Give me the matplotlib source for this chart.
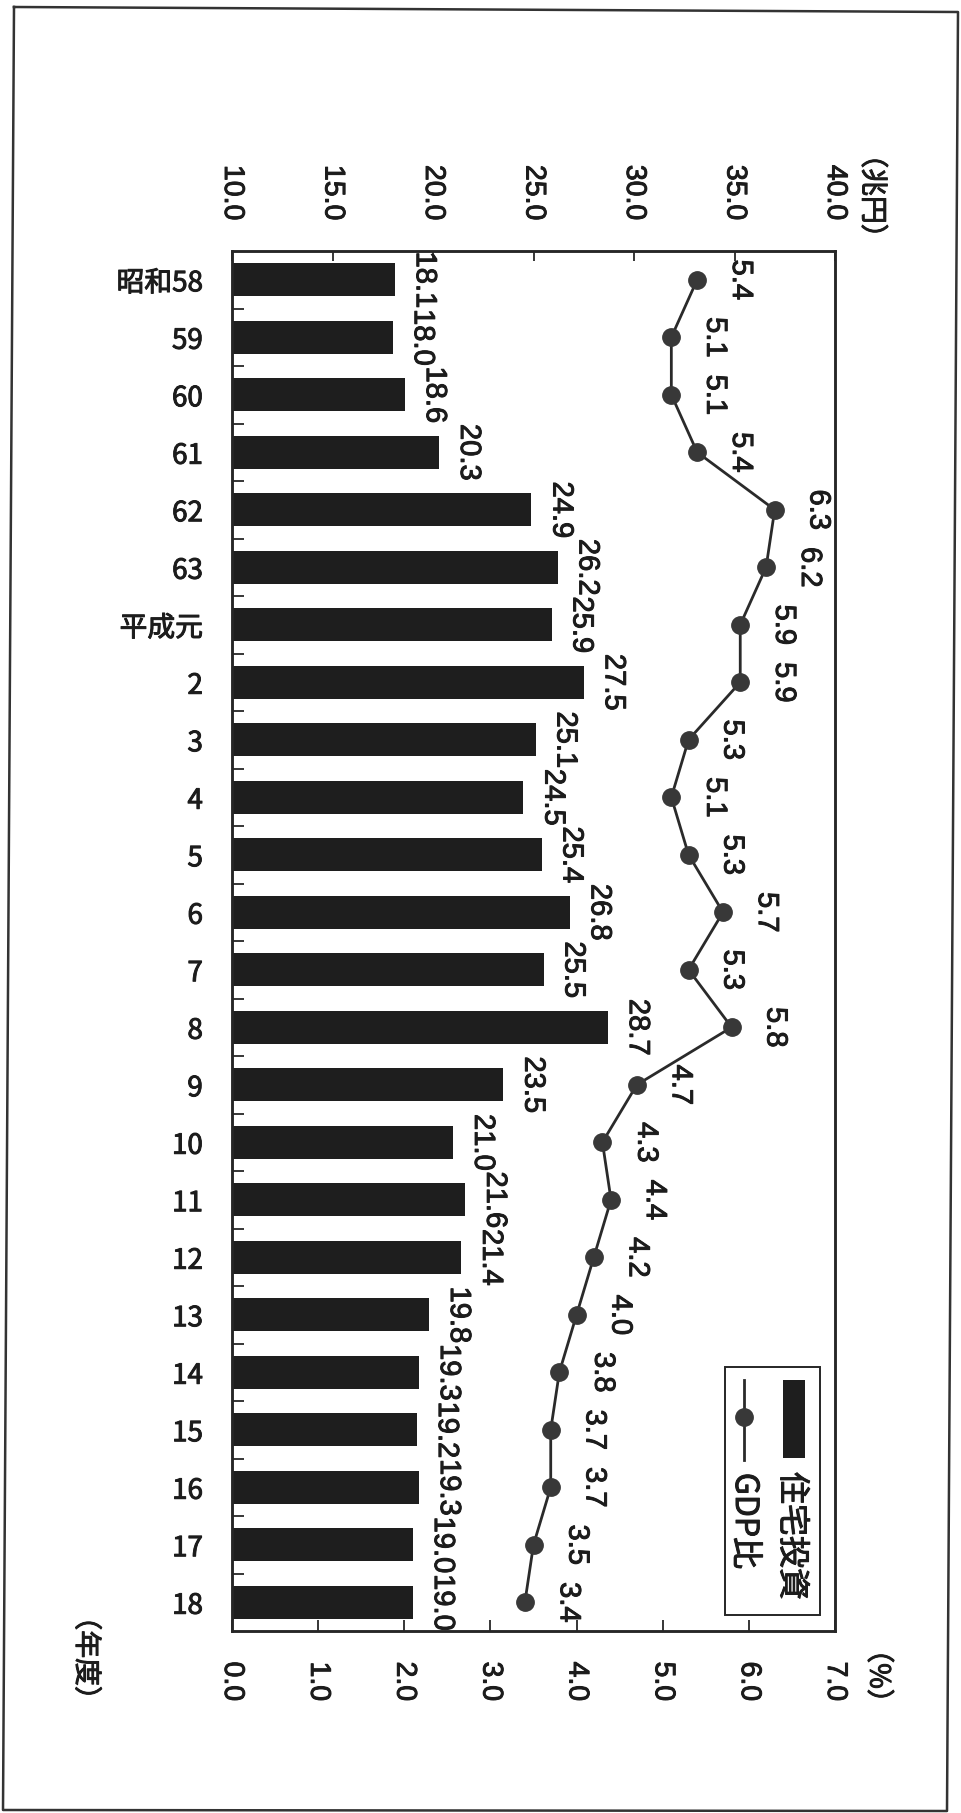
import matplotlib
matplotlib.use('Agg')
import matplotlib.pyplot as plt
import matplotlib.patheffects as pe
from matplotlib.ticker import FormatStrFormatter
from matplotlib.lines import Line2D
from matplotlib.patches import Rectangle

# ---- data ----
categories = ['昭和58', '59', '60', '61', '62', '63', '平成元', '2', '3', '4', '5', '6',
              '7', '8', '9', '10', '11', '12', '13', '14', '15', '16', '17', '18']
investment = [18.1, 18.0, 18.6, 20.3, 24.9, 26.2, 25.9, 27.5, 25.1, 24.5, 25.4, 26.8,
              25.5, 28.7, 23.5, 21.0, 21.6, 21.4, 19.8, 19.3, 19.2, 19.3, 19.0, 19.0]
gdp_ratio = [5.4, 5.1, 5.1, 5.4, 6.3, 6.2, 5.9, 5.9, 5.3, 5.1, 5.3, 5.7,
             5.3, 5.8, 4.7, 4.3, 4.4, 4.2, 4.0, 3.8, 3.7, 3.7, 3.5, 3.4]
inv_ticks = [10, 15, 20, 25, 30, 35, 40]
gdp_ticks = [0, 1, 2, 3, 4, 5, 6, 7]
legend_labels = ['住宅投資', 'GDP比']
unit_inv = '（兆円）'
unit_gdp = '（%）'
unit_cat = '（年度）'

# ---- style ----
BAR = '#1e1e1e'
LINE = '#2a2a2a'
MARK = '#383838'
TXT = '#1c1c1c'
EDGE = '#262626'
CJK = ['Noto Sans CJK JP', 'DejaVu Sans']
NUM = ['Liberation Sans', 'DejaVu Sans']
plt.rcParams['font.family'] = NUM
BOLDEN = [pe.withStroke(linewidth=0.7, foreground=TXT)]

W, H = 961, 1813
fig = plt.figure(figsize=(W / 100, H / 100), dpi=100)
fig.patch.set_facecolor('white')

ax = fig.add_axes([232 / W, 1 - 1631 / H, 603 / W, 1380 / H])
ax2 = ax.twiny()

n = len(categories)
ypos = list(range(n))

# bars
ax.barh(ypos, investment, height=0.575, color=BAR, zorder=2)
ax.set_xlim(10, 40)
ax.set_ylim(n - 0.5, -0.5)

ax.xaxis.tick_top()
ax.set_xticks(inv_ticks)
ax.xaxis.set_major_formatter(FormatStrFormatter('%.1f'))
ax.tick_params(axis='x', which='major', direction='in', length=7, width=1.3,
               color=EDGE, pad=22, labelsize=20.5, labelrotation=-90, labelcolor=TXT,
               top=True, bottom=False, labeltop=True, labelbottom=False)

ax.set_yticks(ypos)
ax.set_yticklabels(categories, fontsize=20, family=CJK, color=TXT)
ax.tick_params(axis='y', which='major', length=0, pad=21)
ax.set_yticks([i + 0.5 for i in range(n - 1)], minor=True)
ax.tick_params(axis='y', which='minor', direction='in', length=8.5, width=1.3,
               color=EDGE, left=True, right=False)

# line on secondary axis
ax2.plot(gdp_ratio, ypos, color=LINE, lw=2.0, marker='o', ms=12.5,
         mfc=MARK, mec=MARK, zorder=3)
ax2.set_xlim(0, 7)
ax2.set_ylim(n - 0.5, -0.5)
ax2.xaxis.tick_bottom()
ax2.set_xticks(gdp_ticks)
ax2.xaxis.set_major_formatter(FormatStrFormatter('%.1f'))
ax2.tick_params(axis='x', which='major', direction='in', length=8, width=1.3,
                color=EDGE, pad=22, labelsize=20.5, labelrotation=-90, labelcolor=TXT,
                top=False, bottom=True, labeltop=False, labelbottom=True)

for t in ax.get_xticklabels() + ax.get_yticklabels() + ax2.get_xticklabels():
    t.set_path_effects(BOLDEN)

for a in (ax, ax2):
    for s in a.spines.values():
        s.set_linewidth(1.8)
        s.set_color(EDGE)

# data labels
for i, v in enumerate(investment):
    ax.annotate(f'{v:.1f}', (v, i), xytext=(11.5, 0), textcoords='offset points',
                rotation=-90, ha='left', va='center', fontsize=21, family=NUM,
                color=TXT, zorder=4, path_effects=BOLDEN)
for i, v in enumerate(gdp_ratio):
    ax2.annotate(f'{v:.1f}', (v, i), xytext=(21.5, 0), textcoords='offset points',
                 rotation=-90, ha='left', va='center', fontsize=21, family=NUM,
                 color=TXT, zorder=4, path_effects=BOLDEN)

# unit labels
ax.text(1.062, 1.0399, unit_inv, transform=ax.transAxes, rotation=-90,
        ha='center', va='center', fontsize=20, family=CJK, color=TXT,
        path_effects=BOLDEN)
ax.text(1.072, -0.0326, unit_gdp, transform=ax.transAxes, rotation=-90,
        ha='center', va='center', fontsize=20, family=CJK, color=TXT,
        path_effects=BOLDEN)
ax.text(-0.242, -0.0196, unit_cat, transform=ax.transAxes, rotation=-90,
        ha='center', va='center', fontsize=20, family=CJK, color=TXT,
        path_effects=BOLDEN)

# legend (rotated, drawn by hand)
tr = ax2.transAxes
ax2.add_patch(Rectangle((0.8176, 0.0116), 0.1575, 0.1797, transform=tr,
                        facecolor='white', edgecolor=EDGE, lw=1.4, zorder=5))
ax2.add_patch(Rectangle((0.9138, 0.1254), 0.0365, 0.0565, transform=tr,
                        facecolor=BAR, edgecolor='none', zorder=6))
ax2.text(0.9287, 0.0688, legend_labels[0], transform=tr, rotation=-90,
         ha='center', va='center', fontsize=23, family=CJK, color=TXT, zorder=6,
         path_effects=BOLDEN)
ax2.add_line(Line2D([0.849, 0.849], [0.1239, 0.1819], transform=tr, color=LINE,
                    lw=2.0, zorder=6))
ax2.add_line(Line2D([0.849], [0.155], transform=tr, marker='o', ms=12.5,
                    mfc=MARK, mec=MARK, lw=0, zorder=7))
ax2.text(0.8507, 0.0797, legend_labels[1], transform=tr, rotation=-90,
         ha='center', va='center', fontsize=23, family=CJK, color=TXT, zorder=6,
         path_effects=BOLDEN)

# page border (slightly skewed as in the scan)
bx = [14, 958, 947, 3, 14]
by = [7, 12, 1811, 1810, 7]
fig.add_artist(Line2D([x / W for x in bx], [1 - y / H for y in by],
                      transform=fig.transFigure, color='#333333', lw=1.8))

fig.savefig('out.png', dpi=100, facecolor='white')
